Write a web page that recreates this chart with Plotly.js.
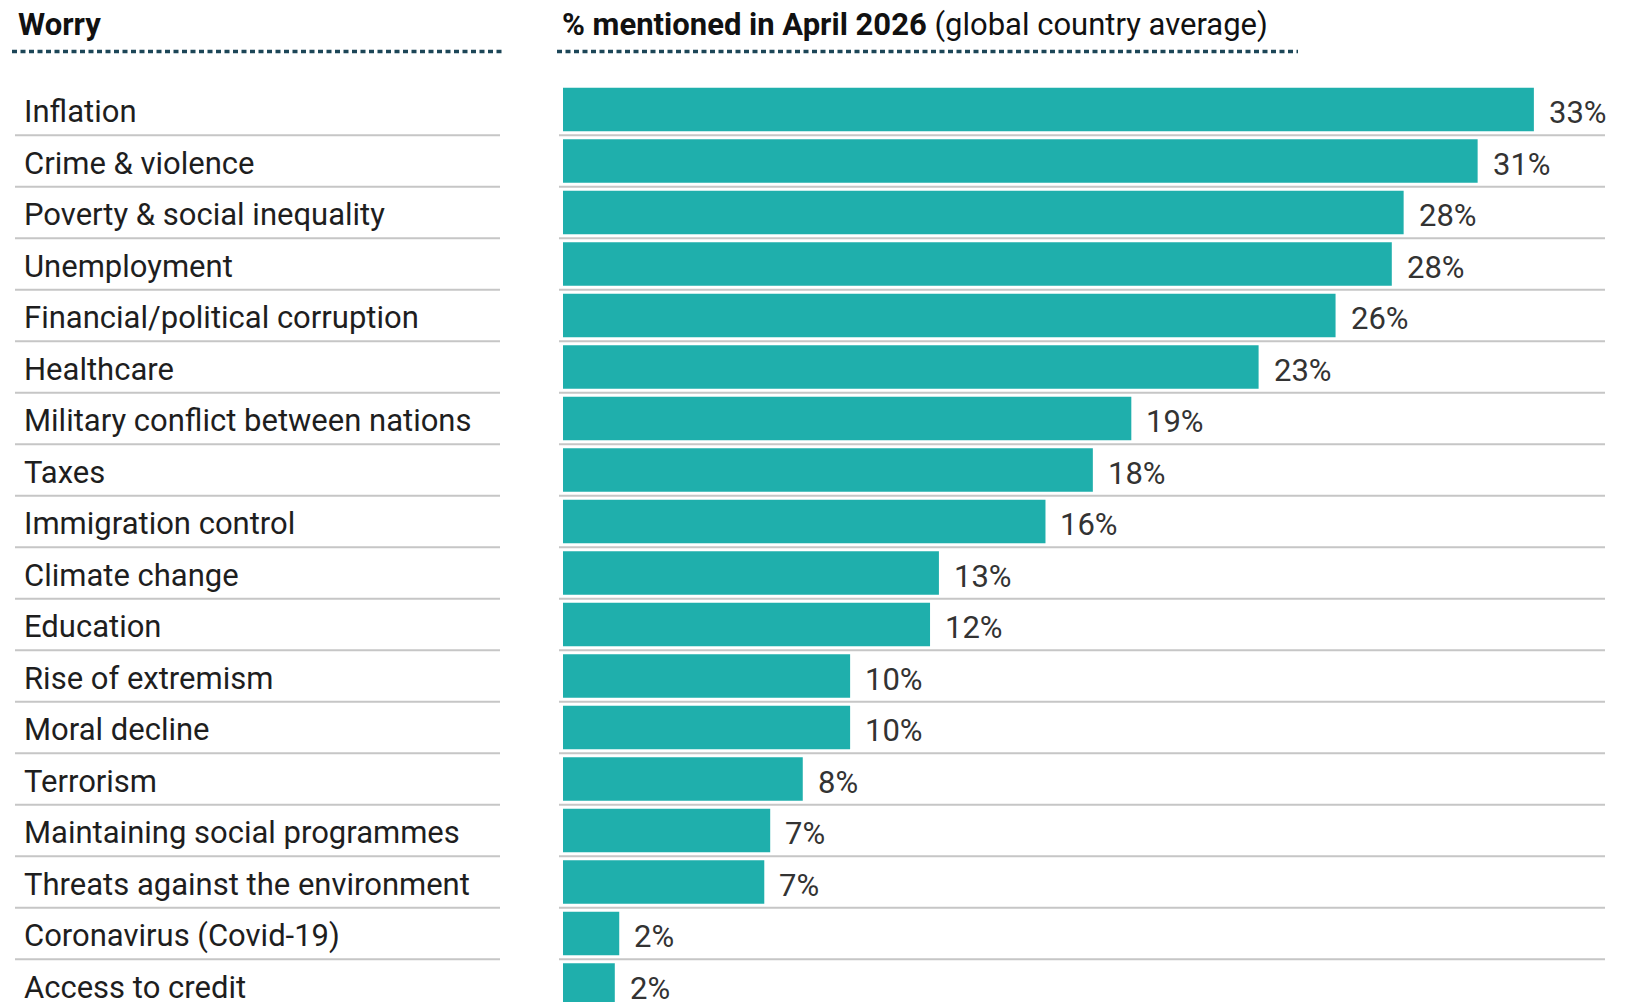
<!DOCTYPE html>
<html>
<head>
<meta charset="utf-8">
<script src="https://cdn.plot.ly/plotly-3.0.1.min.js"></script>
<style>
  html, body { margin: 0; padding: 0; background: #fff; }
  #chart { width: 1631px; height: 1002px; }
</style>
</head>
<body>
<div id="chart"></div>
<script>
const worries = [
  'Inflation', 'Crime & violence', 'Poverty & social inequality', 'Unemployment',
  'Financial/political corruption', 'Healthcare', 'Military conflict between nations',
  'Taxes', 'Immigration control', 'Climate change', 'Education', 'Rise of extremism',
  'Moral decline', 'Terrorism', 'Maintaining social programmes',
  'Threats against the environment', 'Coronavirus (Covid-19)', 'Access to credit',
];
const shares = [32.8, 30.9, 28.4, 28.0, 26.1, 23.5, 19.2, 17.9, 16.3, 12.7, 12.4, 9.7, 9.7, 8.1, 7.0, 6.8, 1.9, 1.75];
const shareLabels = ['33%', '31%', '28%', '28%', '26%', '23%', '19%', '18%', '16%', '13%', '12%', '10%', '10%', '8%', '7%', '7%', '2%', '2%'];

const W = 1631, H = 1002;
const M = { l: 563, r: 26, t: 60, b: 0 };
const plotW = W - M.l - M.r, plotH = H - M.t - M.b;
// pixel -> paper helpers for the decorations outside the plot area
const px = x => (x - M.l) / plotW;
const py = y => (H - M.b - y) / plotH;

const FONT = "Roboto, 'Open Sans', sans-serif";
const TEAL = '#1fafac';
const RULE = '#c6c6c6';
const DOTS = '#1c4657';

const data = [{
  type: 'bar',
  orientation: 'h',
  y: worries,
  x: shares,
  marker: { color: TEAL, line: { width: 0 } },
  hoverinfo: 'skip',
}];

const annotations = [];
worries.forEach((w, i) => {
  annotations.push({
    xref: 'paper', yref: 'y', x: px(22), y: w, xanchor: 'left', yanchor: 'middle', yshift: -2,
    text: w, showarrow: false, font: { family: FONT, size: 31, color: '#1e1e1e' },
  });
  annotations.push({
    xref: 'x', yref: 'y', x: shares[i], y: w, xanchor: 'left', yanchor: 'middle', xshift: 13, yshift: -3,
    text: shareLabels[i], showarrow: false, font: { family: FONT, size: 31, color: '#333' },
  });
});
annotations.push({
  xref: 'paper', yref: 'paper', x: px(16), y: py(24), xanchor: 'left', yanchor: 'middle',
  text: '<b>Worry</b>', showarrow: false, font: { family: FONT, size: 31, color: '#111' },
});
annotations.push({
  xref: 'paper', yref: 'paper', x: px(560), y: py(24), xanchor: 'left', yanchor: 'middle',
  text: '<b>% mentioned in April 2026</b> (global country average)', showarrow: false,
  font: { family: FONT, size: 31, color: '#111' },
});

const shapes = [];
for (let i = 0; i < worries.length - 1; i++) {
  shapes.push({ type: 'line', xref: 'paper', yref: 'y', x0: px(15), x1: px(500), y0: i + 0.5, y1: i + 0.5, line: { color: RULE, width: 2 } });
  shapes.push({ type: 'line', xref: 'paper', yref: 'y', x0: px(559), x1: px(1605), y0: i + 0.5, y1: i + 0.5, line: { color: RULE, width: 2 } });
}
shapes.push({ type: 'line', xref: 'paper', yref: 'paper', x0: px(12), x1: px(503), y0: py(51.5), y1: py(51.5), line: { color: DOTS, width: 3.5, dash: '5px,3.5px' } });
shapes.push({ type: 'line', xref: 'paper', yref: 'paper', x0: px(557), x1: px(1298), y0: py(51.5), y1: py(51.5), line: { color: DOTS, width: 3.5, dash: '5px,3.5px' } });

const rowTop = -(109.5 - M.t) / 51.5;
const rowBottom = (H - M.b - 109.5) / 51.5;

const layout = {
  width: W,
  height: H,
  margin: M,
  paper_bgcolor: '#fff',
  plot_bgcolor: '#fff',
  font: { family: FONT },
  showlegend: false,
  bargap: 0.16,
  xaxis: { range: [0, plotW / 29.6], showgrid: false, zeroline: false, showline: false, showticklabels: false, fixedrange: true },
  yaxis: {
    type: 'category', categoryorder: 'array', categoryarray: worries,
    range: [rowBottom, rowTop], showgrid: false, zeroline: false, showline: false, showticklabels: false, fixedrange: true,
  },
  annotations,
  shapes,
};

Plotly.newPlot('chart', data, layout, { displayModeBar: false, staticPlot: true });
</script>
</body>
</html>
